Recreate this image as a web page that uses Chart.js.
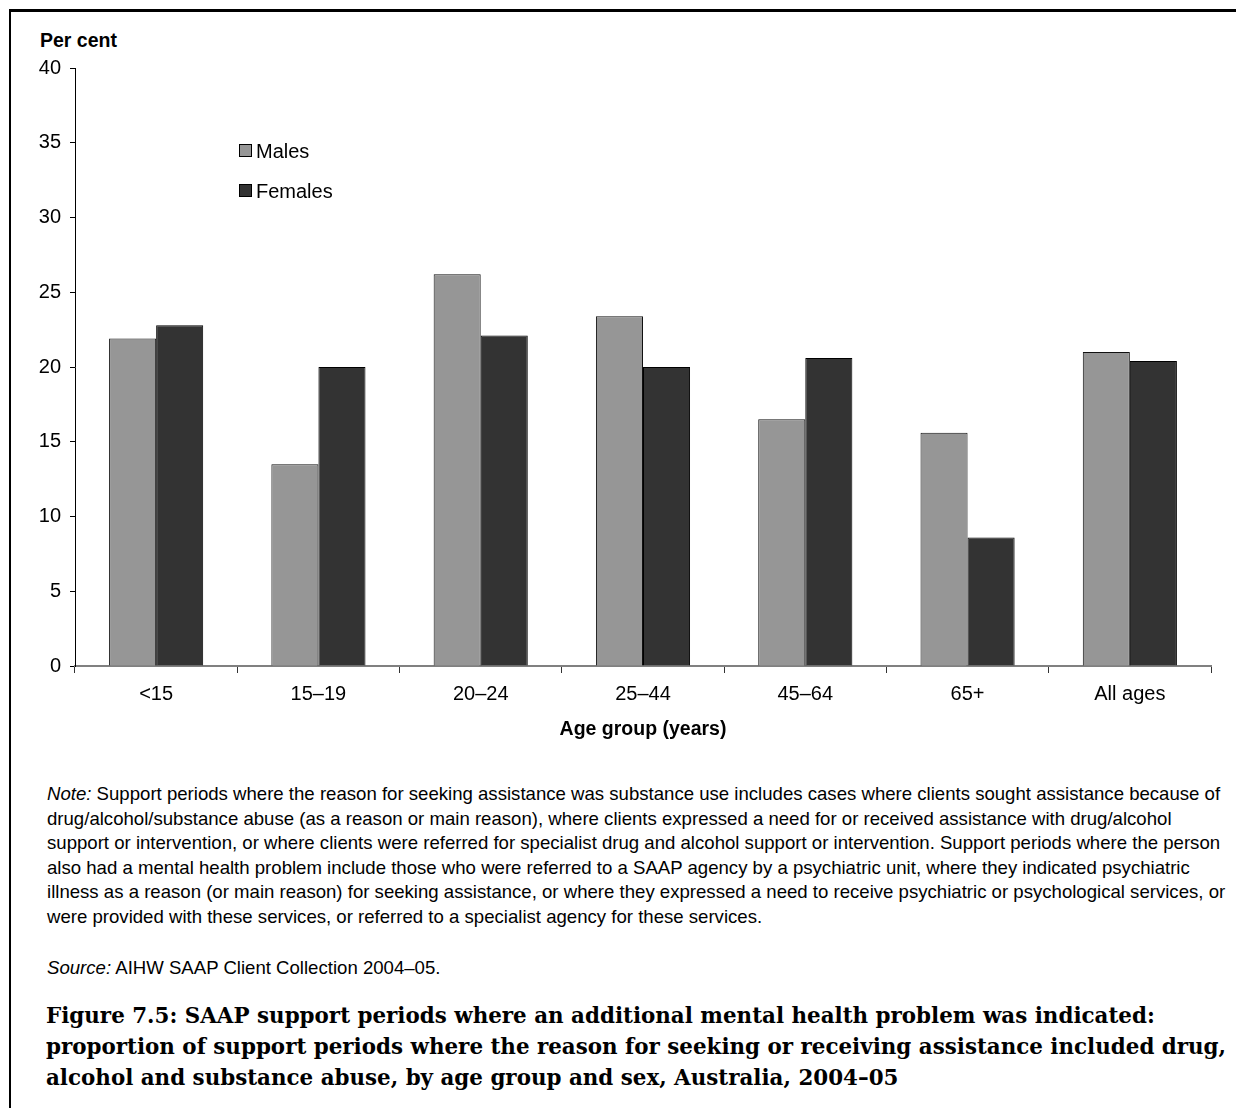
<!DOCTYPE html>
<html>
<head>
<meta charset="utf-8">
<script src="https://cdn.jsdelivr.net/npm/chart.js@4/dist/chart.umd.min.js"></script>
<style>
  html, body { margin: 0; padding: 0; background: #fff; }
  body { width: 1236px; height: 1108px; position: relative; overflow: hidden;
         font-family: "Liberation Sans", Arial, sans-serif; color: #000; }
  .frame-top { position: absolute; left: 9px; top: 9px; width: 1227px; height: 3px; background: #000; }
  .frame-left { position: absolute; left: 9px; top: 9px; width: 2px; height: 1099px; background: #000; }
  #wrap { position: absolute; left: 0; top: 0; width: 1236px; height: 760px; }
  .ylab { position: absolute; left: 40px; top: 29px; font-weight: bold; font-size: 19.5px; line-height: 22px; white-space: nowrap; }
  .note { position: absolute; left: 47px; top: 782px; font-size: 18.6px; line-height: 24.6px; white-space: nowrap; }
  .source { position: absolute; left: 47px; top: 956px; font-size: 18.6px; line-height: 24.6px; white-space: nowrap; }
  .title { position: absolute; left: 46px; top: 1000px; font-family: "DejaVu Serif", "Liberation Serif", serif;
           font-weight: bold; font-size: 21px; line-height: 31px; white-space: nowrap; }
  .title span, .note span { display: block; }
</style>
</head>
<body>
<div class="frame-top"></div>
<div class="frame-left"></div>
<div class="ylab">Per cent</div>
<div id="wrap"><canvas id="chart" width="1236" height="760"></canvas></div>
<div class="note" id="note">
<span id="noteFirst"><i>Note:</i> Support periods where the reason for seeking assistance was substance use includes cases where clients sought assistance because of</span>
<span>drug/alcohol/substance abuse (as a reason or main reason), where clients expressed a need for or received assistance with drug/alcohol</span>
<span>support or intervention, or where clients were referred for specialist drug and alcohol support or intervention. Support periods where the person</span>
<span>also had a mental health problem include those who were referred to a SAAP agency by a psychiatric unit, where they indicated psychiatric</span>
<span>illness as a reason (or main reason) for seeking assistance, or where they expressed a need to receive psychiatric or psychological services, or</span>
<span>were provided with these services, or referred to a specialist agency for these services.</span>
</div>
<div class="source"><i>Source:</i> AIHW SAAP Client Collection 2004–05.</div>
<div class="title" id="title">
<span>Figure 7.5: SAAP support periods where an additional mental health problem was indicated:</span>
<span id="titleLong">proportion of support periods where the reason for seeking or receiving assistance included drug,</span>
<span>alcohol and substance abuse, by age group and sex, Australia, 2004–05</span>
</div>
<script>
// Age groups and per-cent values by sex
const ageGroups = ['<15', '15–19', '20–24', '25–44', '45–64', '65+', 'All ages'];
const males     = [21.9, 13.5, 26.2, 23.4, 16.5, 15.6, 21.0];
const females   = [22.8, 20.0, 22.1, 20.0, 20.6, 8.6, 20.4];
const yTicks    = [0, 5, 10, 15, 20, 25, 30, 35, 40];

const FONT = '"Liberation Sans", Arial, sans-serif';

// Size a text block so its widest line fills the given width
function fitWidth(blockId, lineId, width) {
  const block = document.getElementById(blockId);
  const line = document.getElementById(lineId);
  line.style.display = 'inline-block';
  const size = parseFloat(getComputedStyle(block).fontSize);
  const w = line.getBoundingClientRect().width;
  block.style.fontSize = (size * width / w).toFixed(2) + 'px';
  line.style.display = 'block';
}
fitWidth('title', 'titleLong', 1180);

// Legend drawn inside the plot area, built from the datasets
const insideLegend = {
  id: 'insideLegend',
  afterDraw(chart) {
    const ctx = chart.ctx;
    ctx.save();
    ctx.font = '20px ' + FONT;
    ctx.textBaseline = 'middle';
    chart.data.datasets.forEach((ds, i) => {
      const y = 151 + i * 40;
      ctx.fillStyle = ds.backgroundColor;
      ctx.fillRect(239.5, y - 6.5, 12, 12);
      ctx.strokeStyle = '#000';
      ctx.lineWidth = 1;
      ctx.strokeRect(239.5, y - 6.5, 12, 12);
      ctx.fillStyle = '#000';
      ctx.fillText(ds.label, 256, y + 1);
    });
    ctx.restore();
  }
};

new Chart(document.getElementById('chart'), {
  type: 'bar',
  data: {
    labels: ageGroups,
    datasets: [
      { label: 'Males', data: males, backgroundColor: '#969696', borderColor: '#111', borderWidth: 1,
        barPercentage: 1, categoryPercentage: 0.58 },
      { label: 'Females', data: females, backgroundColor: '#333333', borderColor: '#000', borderWidth: 1,
        barPercentage: 1, categoryPercentage: 0.58 }
    ]
  },
  options: {
    responsive: false,
    animation: false,
    layout: { padding: { left: 0, right: 25, top: 68, bottom: 0 } },
    plugins: { legend: { display: false }, tooltip: { enabled: false } },
    scales: {
      x: {
        afterFit(scale) { scale.height = 94; },
        grid: { drawOnChartArea: false, offset: true, tickLength: 7, color: '#333', lineWidth: 1 },
        border: { color: '#808080', width: 2 },
        ticks: { color: '#000', font: { family: FONT, size: 20 }, padding: 9 },
        title: { display: true, text: 'Age group (years)', color: '#000',
                 font: { family: FONT, size: 19.5, weight: 'bold' }, padding: { top: 4, bottom: 19 } }
      },
      y: {
        min: 0, max: 40,
        afterFit(scale) { scale.width = 75; },
        afterBuildTicks(scale) { scale.ticks = yTicks.map(v => ({ value: v })); },
        grid: { drawOnChartArea: false, tickLength: 5, color: '#000', lineWidth: 1 },
        border: { color: '#000', width: 1 },
        ticks: { color: '#000', font: { family: FONT, size: 20 }, padding: 9 }
      }
    }
  },
  plugins: [insideLegend]
});
</script>
</body>
</html>
